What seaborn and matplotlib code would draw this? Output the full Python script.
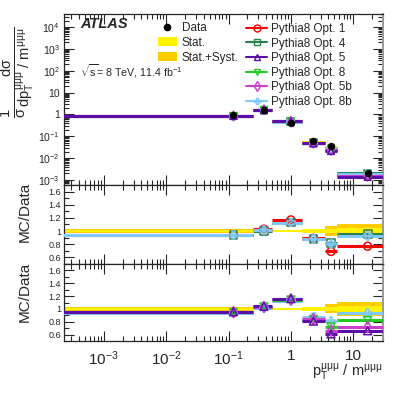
import numpy as np
import pandas as pd
import matplotlib
matplotlib.use("Agg")
import matplotlib.pyplot as plt
import seaborn as sns
from matplotlib.ticker import LogLocator, FuncFormatter, MultipleLocator, NullFormatter
from matplotlib.lines import Line2D
from matplotlib.patches import Patch

# binning in pT/m (first bin really starts at 0, use a tiny value on the log axis)
bin_edges = [1e-6, 0.25, 0.5, 1.5, 3.5, 5.5, 30.0]
point_x = [0.12, 0.37, 1.0, 2.3, 4.4, 17.0]

# measured normalised cross section
data_values = [0.9, 1.58, 0.42, 0.058, 0.035, 0.0021]
stat_err = [0.02, 0.01, 0.01, 0.025, 0.035, 0.05]
total_err = [0.025, 0.015, 0.015, 0.03, 0.07, 0.11]

# MC / Data ratios
ratio_opt1 = [0.94, 1.03, 1.17, 0.89, 0.69, 0.77]
ratio_opt4 = [0.94, 1.00, 1.13, 0.88, 0.82, 0.96]
ratio_opt5 = [0.955, 1.04, 1.16, 0.81, 0.61, 0.66]
ratio_opt8 = [0.945, 1.03, 1.14, 0.83, 0.72, 0.82]
ratio_opt5b = [0.95, 1.03, 1.15, 0.84, 0.66, 0.72]
ratio_opt8b = [0.935, 1.01, 1.13, 0.88, 0.81, 0.93]

labels = ["Pythia8 Opt. 1", "Pythia8 Opt. 4", "Pythia8 Opt. 5",
          "Pythia8 Opt. 8", "Pythia8 Opt. 5b", "Pythia8 Opt. 8b"]
ratios = [ratio_opt1, ratio_opt4, ratio_opt5, ratio_opt8, ratio_opt5b, ratio_opt8b]
colors = ["#ff0000", "#2a7f4f", "#5b0fa8", "#22cc22", "#cc3fcc", "#80c8f5"]
markers = ["o", "s", "^", "v", "d", "P"]
stat_color = "#fff200"
syst_color = "#ffcc00"

sns.set_style("ticks")
plt.rcParams["font.family"] = ["Liberation Sans", "DejaVu Sans"]
plt.rcParams["mathtext.fontset"] = "custom"
plt.rcParams["mathtext.rm"] = "Liberation Sans"
plt.rcParams["mathtext.it"] = "Liberation Sans"
plt.rcParams["mathtext.bf"] = "Liberation Sans:bold"

fig = plt.figure(figsize=(4.07, 3.97), dpi=100)
gs = fig.add_gridspec(3, 1, height_ratios=[171, 79, 77], left=64/407, right=383/407,
                      top=1-14/397, bottom=1-341/397, hspace=0)
ax_top = fig.add_subplot(gs[0])
ax_mid = fig.add_subplot(gs[1], sharex=ax_top)
ax_bot = fig.add_subplot(gs[2], sharex=ax_top)

lefts = np.array(bin_edges[:-1])
widths = np.diff(bin_edges)
data_arr = np.array(data_values)

def draw_bands(ax, center):
    ax.bar(lefts, 2 * center * np.array(total_err), width=widths, bottom=center * (1 - np.array(total_err)),
           align="edge", color=syst_color, linewidth=0, zorder=1)
    ax.bar(lefts, 2 * center * np.array(stat_err), width=widths, bottom=center * (1 - np.array(stat_err)),
           align="edge", color=stat_color, linewidth=0, zorder=1)

def draw_mc(ax, values, color, marker, z, size=32):
    ax.hlines(values, lefts, bin_edges[1:], colors=color, linewidth=2.2, zorder=z)
    df = pd.DataFrame({"x": point_x, "y": values})
    sns.scatterplot(data=df, x="x", y="y", ax=ax, marker=marker, s=size, facecolor="none",
                    edgecolor=color, linewidth=1.1, zorder=z + 10, legend=False)

# top panel
draw_bands(ax_top, data_arr)
for i, order in enumerate([0, 1, 3, 5, 4, 2]):
    draw_mc(ax_top, data_arr * np.array(ratios[order]), colors[order], markers[order], 3 + i, size=24)
ax_top.errorbar(point_x, data_values, yerr=data_arr * np.array(total_err), fmt="o", color="black",
                markersize=4.3, elinewidth=1, capsize=0, zorder=30)
ax_top.set_yscale("log")
ax_top.set_ylim(5.9e-4, 4e4)

# middle ratio panel: Opt. 1, 4, 8b
draw_bands(ax_mid, 1.0)
for i, order in enumerate([0, 1, 5]):
    draw_mc(ax_mid, ratios[order], colors[order], markers[order], 3 + i)

# bottom ratio panel: Opt. 5, 8, 5b, 8b
draw_bands(ax_bot, 1.0)
for i, order in enumerate([5, 3, 4, 2]):
    draw_mc(ax_bot, ratios[order], colors[order], markers[order], 3 + i)

ax_top.set_xscale("log")
ax_top.set_xlim(2.3e-4, 30)

def log_fmt(v, pos):
    e = int(round(np.log10(v)))
    if e == 0:
        return "1"
    if e == 1:
        return "10"
    return r"$10^{%d}$" % e

for ax in (ax_top, ax_mid, ax_bot):
    ax.tick_params(which="both", direction="in", top=True, right=True, width=0.8)
    ax.tick_params(which="major", length=7)
    ax.tick_params(which="minor", length=3.5)
    ax.xaxis.set_major_locator(LogLocator(base=10, numticks=20))
    ax.xaxis.set_minor_locator(LogLocator(base=10, subs=np.arange(2, 10), numticks=20))
    ax.xaxis.set_minor_formatter(NullFormatter())
    for s in ax.spines.values():
        s.set_linewidth(0.9)
    ax.spines["right"].set_color("#9a9a9a")
    ax.spines["right"].set_linewidth(1.4)
    ax.set_xlabel("")
    ax.set_ylabel("")

ax_top.yaxis.set_major_locator(LogLocator(base=10, numticks=20))
ax_top.yaxis.set_minor_locator(LogLocator(base=10, subs=np.arange(2, 10), numticks=20))
ax_top.yaxis.set_major_formatter(FuncFormatter(log_fmt))
ax_top.yaxis.set_minor_formatter(NullFormatter())
ax_top.tick_params(axis="y", labelsize=7.5, pad=3)
ax_top.tick_params(axis="x", labelbottom=False)
ax_mid.tick_params(axis="x", labelbottom=False)
ax_bot.xaxis.set_major_formatter(FuncFormatter(log_fmt))
ax_bot.tick_params(axis="x", labelsize=11, pad=6)

def ratio_fmt(v, pos):
    return "1" if abs(v - 1) < 1e-6 else "%.1f" % v

for ax in (ax_mid, ax_bot):
    ax.set_ylim(0.5, 1.7)
    ax.set_yticks([0.6, 0.8, 1.0, 1.2, 1.4, 1.6])
    ax.yaxis.set_minor_locator(MultipleLocator(0.1))
    ax.yaxis.set_major_formatter(FuncFormatter(ratio_fmt))
    ax.yaxis.set_minor_formatter(NullFormatter())
    ax.tick_params(axis="y", labelsize=6.5, pad=2)

ax_top.set_ylabel(r"$\frac{1}{\sigma}\frac{d\sigma}{dp_{T}^{\mu\mu\mu}\ /\ m^{\mu\mu\mu}}$", fontsize=15)
ax_top.yaxis.set_label_coords(-0.085, 0.66)
ax_mid.set_ylabel("MC/Data", fontsize=11)
ax_mid.yaxis.set_label_coords(-0.1, 0.66)
ax_bot.set_ylabel("MC/Data", fontsize=11)
ax_bot.yaxis.set_label_coords(-0.1, 0.64)
ax_bot.set_xlabel(r"$p_{T}^{\mu\mu\mu}$ / $m^{\mu\mu\mu}$", fontsize=10.5, ha="right")
ax_bot.xaxis.set_label_coords(1.0, -0.27)

ax_top.text(0.05, 0.94, "ATLAS", transform=ax_top.transAxes, fontsize=10.5, fontweight="bold",
            fontstyle="italic", va="center", ha="left")
ax_top.text(0.05, 0.665, r"$\sqrt{s}$= 8 TeV, 11.4 fb$^{-1}$", transform=ax_top.transAxes,
            fontsize=7.7, va="center", ha="left")

left_handles = [Line2D([], [], marker="o", color="black", linestyle="none", markersize=4.5),
                Patch(facecolor=stat_color, edgecolor="none"),
                Patch(facecolor=syst_color, edgecolor="none")]
leg1 = ax_top.legend(left_handles, ["Data", "Stat.", "Stat.+Syst."], loc="upper left",
                     bbox_to_anchor=(158/407, 1-22/397), bbox_transform=fig.transFigure,
                     frameon=False, fontsize=8.5, handlelength=1.6, handleheight=0.8,
                     handletextpad=0.4, labelspacing=0.25, borderpad=0, borderaxespad=0)
ax_top.add_artist(leg1)
right_handles = [Line2D([], [], color=c, marker=m, markerfacecolor="none", markeredgecolor=c,
                        markersize=5, linewidth=1.5, markeredgewidth=1.0)
                 for c, m in zip(colors, markers)]
ax_top.legend(right_handles, labels, loc="upper left",
              bbox_to_anchor=(246/407, 1-23/397), bbox_transform=fig.transFigure,
              frameon=False, fontsize=8.5, handlelength=1.8, handletextpad=0.3,
              labelspacing=0.22, borderpad=0, borderaxespad=0)

fig.savefig("out.png", dpi=100)
